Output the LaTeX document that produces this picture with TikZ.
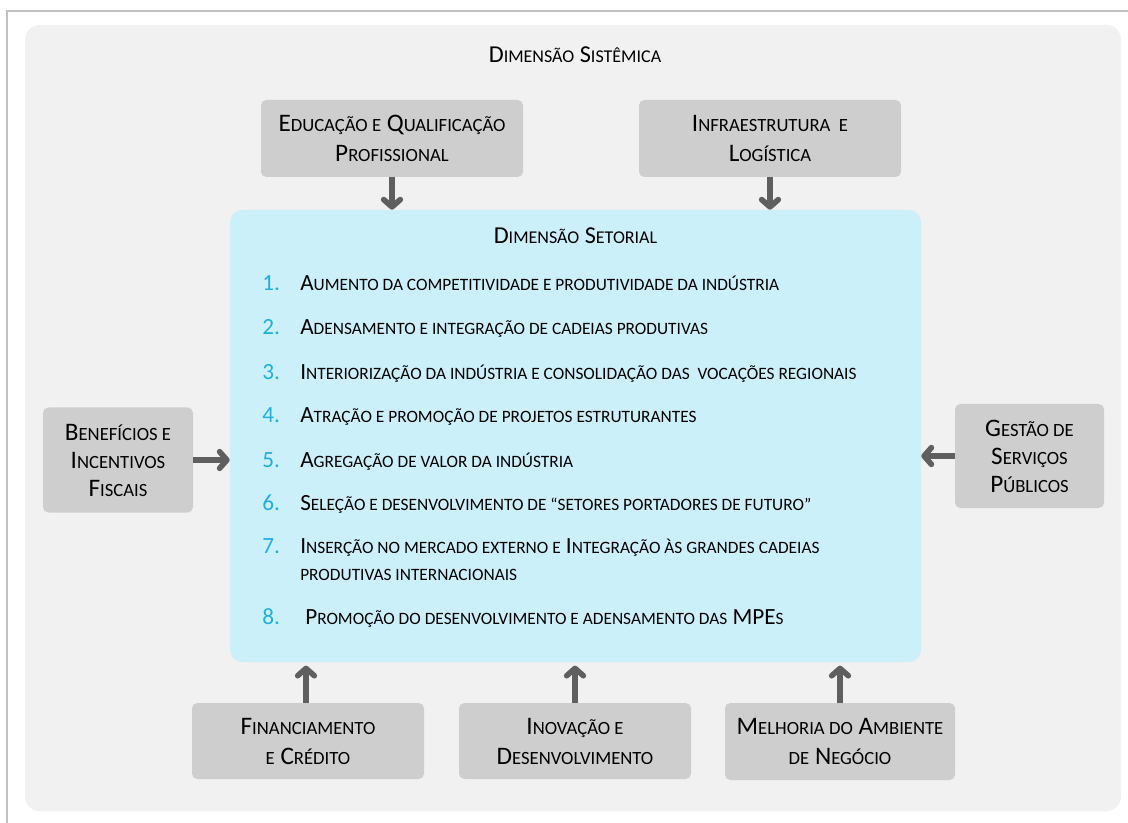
\documentclass[tikz,border=0pt]{standalone}
\usepackage{fontspec}
\setmainfont{Carlito}
\usetikzlibrary{arrows.meta}
\definecolor{framegray}{HTML}{C0C0C0}
\definecolor{bggray}{HTML}{F1F1F1}
\definecolor{boxgray}{HTML}{CECECE}
\definecolor{secblue}{HTML}{CCF0FA}
\definecolor{numblue}{HTML}{1EB0E0}
\definecolor{arrowgray}{HTML}{5F5F5F}
\newcommand\sm[1]{{\fontsize{13}{15}\selectfont #1}}
\newcommand\smt[1]{{\fontsize{13.5}{15}\selectfont #1}}
\newcommand\smb[1]{{\fontsize{14}{16}\selectfont #1}}
\begin{document}
\begin{tikzpicture}[x=0.75pt,y=-0.75pt,
  factor/.style={fill=boxgray, rounded corners=4pt, inner sep=0pt, align=center, font=\fontsize{18.9}{22.5}\selectfont},
  sidefactor/.style={factor, font=\fontsize{18.9}{21}\selectfont},
  flow/.style={draw=arrowgray, line width=4.2pt, -{Straight Barb[length=5.5pt,width=12.5pt,round]}},
  num/.style={anchor=base west, text=numblue, inner sep=0pt, font=\fontsize{17.4}{20}\selectfont},
  item/.style={anchor=base west, inner sep=0pt, font=\fontsize{17.4}{20}\selectfont},
  title/.style={anchor=base, inner sep=0pt, font=\fontsize{18.2}{20}\selectfont},
]
\useasboundingbox (0,0) rectangle (1128,823);
\fill[white] (0,0) rectangle (1128,823);
\draw[framegray, line width=1.5pt] (7,823) -- (7,11) -- (1128,11);
\node[fill=bggray, rounded corners=11pt, minimum width=822pt, minimum height=589.5pt, inner sep=0pt] (sys) at (573,418) {};
\node[title] (systitle) at (575,63) {D\smt{IMENSÃO} S\smt{ISTÊMICA}};

\node[fill=secblue, rounded corners=9pt, minimum width=518.25pt, minimum height=339pt, inner sep=0pt] (sect) at (575.5,436) {};
\node[title] (sectitle) at (575.5,244) {D\smt{IMENSÃO} S\smt{ETORIAL}};

\node[num] (n1) at (262,290.6) {1.};
\node[item] (i1) at (300,290.6) {A\sm{UMENTO DA COMPETITIVIDADE E PRODUTIVIDADE DA INDÚSTRIA}};
\node[num] (n2) at (262,334.6) {2.};
\node[item] (i2) at (300,334.6) {A\sm{DENSAMENTO E INTEGRAÇÃO DE CADEIAS PRODUTIVAS}};
\node[num] (n3) at (262,379.6) {3.};
\node[item] (i3) at (300,379.6) {I\sm{NTERIORIZAÇÃO DA INDÚSTRIA E CONSOLIDAÇÃO DAS\ \ VOCAÇÕES REGIONAIS}};
\node[num] (n4) at (262,422.6) {4.};
\node[item] (i4) at (300,422.6) {A\sm{TRAÇÃO E PROMOÇÃO DE PROJETOS ESTRUTURANTES}};
\node[num] (n5) at (262,467.6) {5.};
\node[item] (i5) at (300,467.6) {A\sm{GREGAÇÃO DE VALOR DA INDÚSTRIA}};
\node[num] (n6) at (262,510.6) {6.};
\node[item] (i6) at (300,510.6) {S\sm{ELEÇÃO E DESENVOLVIMENTO DE “SETORES PORTADORES DE FUTURO”}};
\node[num] (n7) at (262,553.6) {7.};
\node[item] (i7) at (300,553.6) {I\sm{NSERÇÃO NO MERCADO EXTERNO E} I\sm{NTEGRAÇÃO ÀS GRANDES CADEIAS}};
\node[item] (i7b) at (300,580.6) {\sm{PRODUTIVAS INTERNACIONAIS}};
\node[num] (n8) at (262,624.6) {8.};
\node[item] (i8) at (305,624.6) {P\sm{ROMOÇÃO DO DESENVOLVIMENTO E ADENSAMENTO DAS} MPE\sm{S}};

\node[factor, minimum width=196.5pt, minimum height=57.75pt] (edu) at (392,138.5) {E\smb{DUCAÇÃO E} Q\smb{UALIFICAÇÃO}\\P\smb{ROFISSIONAL}};
\node[factor, minimum width=196.5pt, minimum height=57.75pt] (infra) at (770,138.5) {I\smb{NFRAESTRUTURA\ \ E}\\L\smb{OGÍSTICA}};
\node[sidefactor, minimum width=112.5pt, minimum height=78.75pt] (fisc) at (118,460) {B\smb{ENEFÍCIOS E}\\I\smb{NCENTIVOS}\\F\smb{ISCAIS}};
\node[sidefactor, minimum width=111.75pt, minimum height=78pt] (gest) at (1029.5,456) {G\smb{ESTÃO DE}\\S\smb{ERVIÇOS}\\P\smb{ÚBLICOS}};
\node[factor, minimum width=174pt, minimum height=57pt] (fin) at (308,741) {F\smb{INANCIAMENTO}\\\smb{E} C\smb{RÉDITO}};
\node[factor, minimum width=174pt, minimum height=57pt] (inov) at (575,741) {I\smb{NOVAÇÃO E}\\D\smb{ESENVOLVIMENTO}};
\node[factor, minimum width=172.5pt, minimum height=57.75pt] (amb) at (840,741.5) {M\smb{ELHORIA DO} A\smb{MBIENTE}\\\smb{DE} N\smb{EGÓCIO}};

\draw[flow] (edu.south) -- (edu.south |- sect.north);
\draw[flow] (infra.south) -- (infra.south |- sect.north);
\draw[flow] (fisc.east) -- (fisc.east -| sect.west);
\draw[flow] (gest.west) -- (gest.west -| sect.east);
\draw[flow, shorten >=2.5pt] ([xshift=-1.5pt]fin.north) -- ([xshift=-1.5pt]fin.north |- sect.south);
\draw[flow, shorten >=2.5pt] (inov.north) -- (inov.north |- sect.south);
\draw[flow, shorten >=2.5pt] (amb.north) -- (amb.north |- sect.south);
\end{tikzpicture}
\end{document}
